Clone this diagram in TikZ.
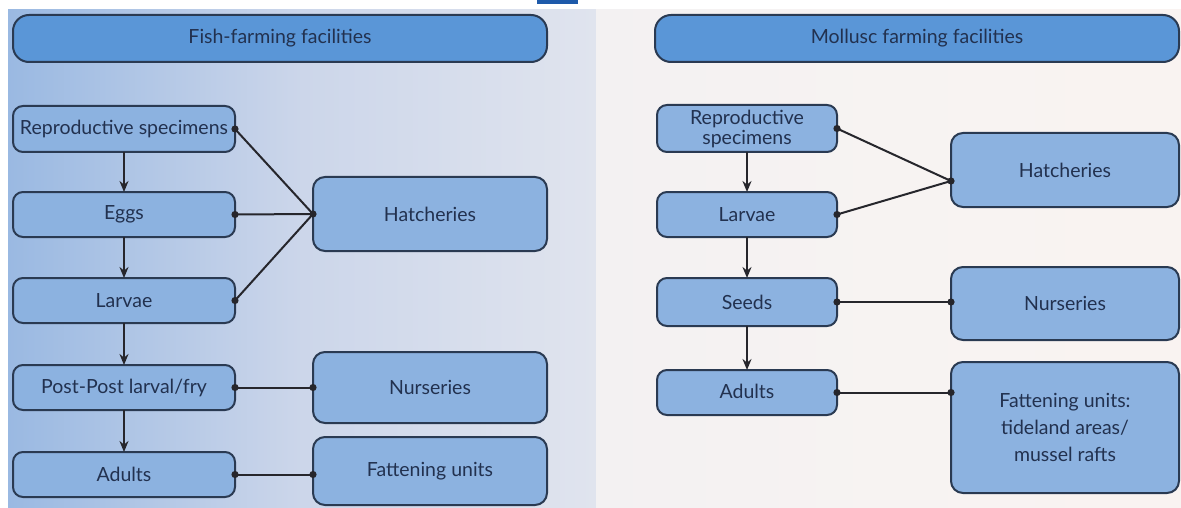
\documentclass[tikz,border=0pt]{standalone}
\usepackage{fontspec}
\setmainfont{Lato}
\usetikzlibrary{arrows.meta,calc}
\definecolor{boxfill}{HTML}{8CB2E0}
\definecolor{titlefill}{HTML}{5A96D7}
\definecolor{edge}{HTML}{2A3A52}
\definecolor{txt}{HTML}{22314F}
\definecolor{wire}{HTML}{26262C}
\definecolor{topbar}{HTML}{1E5AAA}
\definecolor{lbA}{HTML}{6497D6}
\definecolor{lbB}{HTML}{9AB9E2}
\definecolor{lbC}{HTML}{CCD6EA}
\definecolor{lbD}{HTML}{E0E4EE}
\definecolor{lbE}{HTML}{EAEBF0}
\definecolor{rbA}{HTML}{EFEFF2}
\definecolor{rbB}{HTML}{F7F3F2}
\definecolor{rbC}{HTML}{FCF4F0}
\pgfdeclarehorizontalshading{leftbg}{100bp}{color(0bp)=(lbA); color(25bp)=(lbB); color(50bp)=(lbC); color(75bp)=(lbD); color(100bp)=(lbE)}
\pgfdeclarehorizontalshading{rightbg}{100bp}{color(0bp)=(rbA); color(50bp)=(rbB); color(100bp)=(rbC)}
\tikzset{
  stage/.style={draw=edge, line width=2pt, fill=boxfill, rounded corners=10pt,
    inner sep=0pt, outer sep=0pt, text=txt, align=center,
    font=\fontsize{19.5}{21}\selectfont},
  facility/.style={stage, rounded corners=12pt},
  header/.style={stage, fill=titlefill, rounded corners=16pt},
  flow/.style={draw=wire, line width=2pt, -{Stealth[length=11pt,width=9pt]}},
  link/.style={draw=wire, line width=2pt},
  dotc/.style={fill=wire}
}
\begin{document}
\begin{tikzpicture}[x=1pt,y=-1pt]
\useasboundingbox (0,0) rectangle (1181,508);
\fill[white] (0,0) rectangle (1181,508);
\shade[shading=leftbg] (8,10) rectangle (596,508);
\shade[shading=rightbg] (596,10) rectangle (1181,508);
\fill[topbar] (537,0) rectangle (578,4);

% ---------- left: fish ----------
\node[header, minimum width=534pt, minimum height=47pt] (ltitle) at (280,38.5) {Fish-farming facilities};
\node[stage, minimum width=222pt, minimum height=46pt] (lrep) at (124,129) {Reproductive specimens};
\node[stage, minimum width=222pt, minimum height=45pt] (legg) at (124,214.5) {Eggs};
\node[stage, minimum width=222pt, minimum height=45pt] (llar) at (124,300.5) {Larvae};
\node[stage, minimum width=222pt, minimum height=45pt] (lpost) at (124,387.5) {Post-Post larval/fry};
\node[stage, minimum width=222pt, minimum height=45pt] (ladu) at (124,474.5) {Adults};
\node[facility, minimum width=234pt, minimum height=74pt] (lhat) at (430,214) {Hatcheries};
\node[facility, minimum width=234pt, minimum height=71pt] (lnur) at (430,387.5) {Nurseries};
\node[facility, minimum width=234pt, minimum height=68pt] (lfat) at (430,471) {Fattening units};

\draw[flow] (lrep) -- (legg);
\draw[flow] (legg) -- (llar);
\draw[flow] (llar) -- (lpost);
\draw[flow] (lpost) -- (ladu);

\draw[link] (lrep.east) -- (lhat.west);
\draw[link] (legg.east) -- (lhat.west);
\draw[link] (llar.east) -- (lhat.west);
\coordinate (lnurp) at (lpost.east -| lnur.west);
\coordinate (lfatp) at (ladu.east -| lfat.west);
\draw[link] (lpost.east) -- (lnurp);
\draw[link] (ladu.east) -- (lfatp);

\foreach \p in {lrep.east,legg.east,llar.east,lhat.west,lpost.east,lnurp,ladu.east,lfatp}
  \fill[dotc] (\p) circle[radius=3.6pt];

% ---------- right: molluscs ----------
\node[header, minimum width=524pt, minimum height=47pt] (rtitle) at (917,38.5) {Mollusc farming facilities};
\node[stage, minimum width=180pt, minimum height=47pt, font=\fontsize{19.5}{20}\selectfont] (rrep) at (747,128.5) {Reproductive\\specimens};
\node[stage, minimum width=180pt, minimum height=45pt] (rlar) at (747,214.5) {Larvae};
\node[stage, minimum width=180pt, minimum height=48pt] (rseed) at (747,302) {Seeds};
\node[stage, minimum width=180pt, minimum height=45pt] (radu) at (747,392.5) {\raisebox{3pt}{Adults}};
\node[facility, minimum width=228pt, minimum height=74pt] (rhat) at (1065,170) {Hatcheries};
\node[facility, minimum width=228pt, minimum height=73pt] (rnur) at (1065,303.5) {Nurseries};
\node[facility, minimum width=228pt, minimum height=131pt, font=\fontsize{19.5}{27}\selectfont] (rfat) at (1065,427.5) {Fattening units:\\tideland areas/\\mussel rafts};

\draw[flow] (rrep) -- (rlar);
\draw[flow] (rlar) -- (rseed);
\draw[flow] (rseed) -- (radu);

\coordinate (rhatp) at ($(rhat.west)+(0,11)$);
\coordinate (rnurp) at (rseed.east -| rnur.west);
\coordinate (rfatp) at (radu.east -| rfat.west);
\draw[link] (rrep.east) -- (rhatp);
\draw[link] (rlar.east) -- (rhatp);
\draw[link] (rseed.east) -- (rnurp);
\draw[link] (radu.east) -- (rfatp);

\foreach \p in {rrep.east,rlar.east,rhatp,rseed.east,rnurp,radu.east,rfatp}
  \fill[dotc] (\p) circle[radius=3.6pt];
\end{tikzpicture}
\end{document}
